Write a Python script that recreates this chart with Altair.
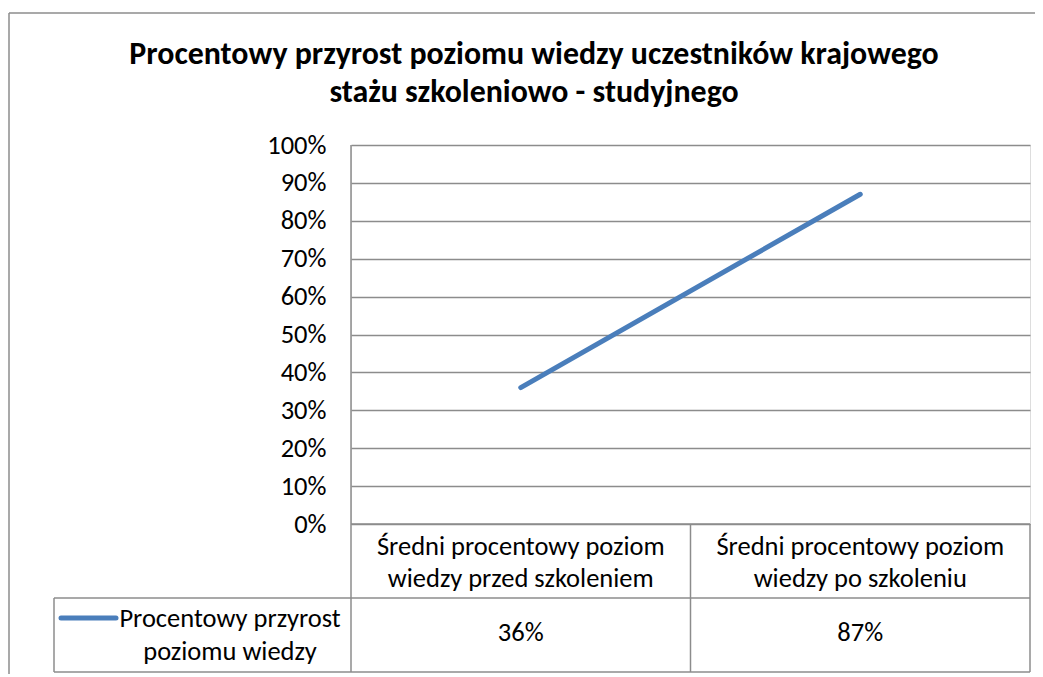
import altair as alt
import pandas as pd

# ---- data ----
categories = ["Średni procentowy poziom\nwiedzy przed szkoleniem",
              "Średni procentowy poziom\nwiedzy po szkoleniu"]
values = [0.36, 0.87]
series_name = "Procentowy przyrost\npoziomu wiedzy"
title_lines = ["Procentowy przyrost poziomu wiedzy uczestników krajowego",
               "stażu szkoleniowo - studyjnego"]
y_ticks = [0, 0.1, 0.2, 0.3, 0.4, 0.5, 0.6, 0.7, 0.8, 0.9, 1.0]

FONT = "Carlito, Calibri, 'Liberation Sans Narrow', 'Open Sans'"
LINE_COLOR = "#4a7ebb"
GRID = "#8c8c8c"
BODY = 26.5

W, H = 679, 379

df = pd.DataFrame({"cat": categories, "val": values})
df["label"] = [f"{round(v*100)}%" for v in values]

xs = alt.Scale(domain=categories, paddingInner=0, paddingOuter=0)
ys = alt.Scale(domain=[0, 1], nice=False)

base = alt.Chart(df)

line = base.mark_line(color=LINE_COLOR, strokeWidth=5, strokeCap="round").encode(
    x=alt.X("cat:N", scale=xs, axis=None, sort=categories),
    y=alt.Y("val:Q", scale=ys, axis=alt.Axis(
        values=y_ticks, format=".0%", grid=True, gridColor=GRID, gridWidth=1.5,
        domain=False, ticks=False, labelPadding=25, labelFont=FONT,
        labelFontSize=BODY, labelColor="#000000", title=None)),
)

cat_text = base.mark_text(font=FONT, fontSize=BODY, color="#000000", lineBreak="\n",
                          lineHeight=32, baseline="alphabetic", align="center").encode(
    x=alt.X("cat:N", scale=xs, axis=None, sort=categories),
    y=alt.value(410),
    text="cat:N",
)

val_text = base.mark_text(font=FONT, fontSize=BODY, color="#000000",
                          baseline="alphabetic", align="center").encode(
    x=alt.X("cat:N", scale=xs, axis=None, sort=categories),
    y=alt.value(496),
    text="label:N",
)

legend_df = pd.DataFrame({"name": [series_name]})
legend_text = alt.Chart(legend_df).mark_text(
    font=FONT, fontSize=BODY, color="#000000", lineBreak="\n", lineHeight=33,
    baseline="alphabetic", align="center").encode(
    x=alt.value(-121), y=alt.value(482), text="name:N")

legend_key = alt.Chart(legend_df).mark_rule(
    color=LINE_COLOR, strokeWidth=5, strokeCap="round").encode(
    x=alt.value(-290), x2=alt.value(-235), y=alt.value(473))

title_df = pd.DataFrame({"t": title_lines, "yy": [-81, -43]})
title = alt.Chart(title_df).mark_text(
    font=FONT, fontSize=31.9, fontWeight="bold", color="#000000",
    baseline="alphabetic", align="center").encode(
    x=alt.value(183), y=alt.Y("yy:Q", scale=None), text="t:N")


def rule(x1, y1, x2, y2, color=GRID, w=1.5):
    return alt.Chart(legend_df).mark_rule(color=color, strokeWidth=w).encode(
        x=alt.value(x1), x2=alt.value(x2), y=alt.value(y1), y2=alt.value(y2))


rules = [
    rule(0, 0, 0, 527),          # axis line through table
    rule(0, 379, W, 379),        # 0% line
    rule(-297, 453, W, 453),     # row divider
    rule(-297, 527, W, 527),     # table bottom
    rule(-297, 453, -297, 527),  # legend cell left
    rule(W / 2, 379, W / 2, 527),
    rule(W, 379, W, 527),
    # outer border
    rule(-342, -132, 690, -132),
    rule(-342, -132, -342, 560),
]

chart = alt.layer(*rules, line, cat_text, val_text, legend_key, legend_text, title).properties(
    width=W, height=H,
    autosize=alt.AutoSizeParams(type="none"),
    padding={"left": 343, "top": 137, "right": 5, "bottom": 150},
).configure_view(stroke=None).configure(background="white")

chart.save("out.html", embed_options={"renderer": "svg", "actions": False})
